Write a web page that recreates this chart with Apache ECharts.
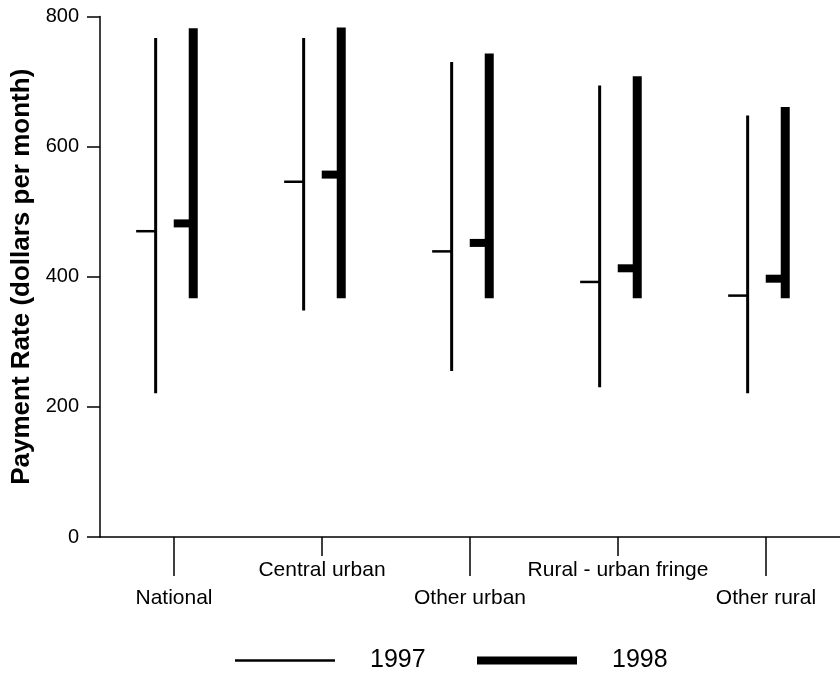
<!DOCTYPE html>
<html>
<head>
<meta charset="utf-8">
<script src="https://cdn.jsdelivr.net/npm/echarts@6/dist/echarts.min.js"></script>
<style>
html,body{margin:0;padding:0;background:#fff;}
#chart{width:840px;height:673px;}
</style>
</head>
<body>
<div id="chart"></div>
<script>
var categories = ['National', 'Central urban', 'Other urban', 'Rural - urban fringe', 'Other rural'];
var low1997  = [221, 348, 255, 230, 221];
var high1997 = [767, 767, 730, 694, 648];
var mean1997 = [470, 546, 439, 392, 371];
var low1998  = [367, 367, 367, 367, 367];
var high1998 = [782, 783, 743, 708, 661];
var mean1998 = [482, 557, 452, 413, 397];
var yTicks = [0, 200, 400, 600, 800];

var FONT = "'Liberation Sans', Arial, Helvetica, sans-serif";

function build(lo, hi, mean) {
  return categories.map(function (c, i) { return [i, lo[i], hi[i], mean[i]]; });
}

function makeRender(offFrac, w, tickLen, tickH) {
  return function (params, api) {
    var cat = api.value(0), lo = api.value(1), hi = api.value(2), m = api.value(3);
    var band = api.size([1, 0])[0];
    var pLo = api.coord([cat, lo]);
    var pHi = api.coord([cat, hi]);
    var pM = api.coord([cat, m]);
    var xc = pLo[0] + offFrac * band;
    return {
      type: 'group',
      children: [
        { type: 'rect', shape: { x: xc - w / 2, y: pHi[1], width: w, height: pLo[1] - pHi[1] }, style: { fill: '#000' } },
        { type: 'rect', shape: { x: xc - w / 2 - tickLen, y: pM[1] - tickH / 2, width: tickLen + 1, height: tickH }, style: { fill: '#000' } }
      ]
    };
  };
}

var chart = echarts.init(document.getElementById('chart'), null, { renderer: 'canvas' });
var axisLineStyle = { color: '#000', width: 1.5 };
chart.setOption({
  backgroundColor: '#fff',
  animation: false,
  grid: { left: 100, top: 16.5, width: 746, bottom: 136, containLabel: false },
  xAxis: [
    {
      type: 'category', data: categories, position: 'bottom', boundaryGap: true,
      axisLine: { show: true, lineStyle: axisLineStyle },
      axisTick: { show: true, alignWithLabel: true, length: 39, lineStyle: { color: '#000', width: 1.5 },
        interval: function (i) { return i % 2 === 0; } },
      axisLabel: { show: true, margin: 51, color: '#000', fontFamily: FONT, fontSize: 21,
        interval: function (i) { return i % 2 === 0; } },
      splitLine: { show: false }
    },
    {
      type: 'category', data: categories, position: 'bottom', offset: 0, boundaryGap: true,
      axisLine: { show: false },
      axisTick: { show: true, alignWithLabel: true, length: 19, lineStyle: { color: '#000', width: 1.5 },
        interval: function (i) { return i % 2 === 1; } },
      axisLabel: { show: true, margin: 23, color: '#000', fontFamily: FONT, fontSize: 21,
        interval: function (i) { return i % 2 === 1; } },
      splitLine: { show: false }
    }
  ],
  yAxis: {
    type: 'value', min: yTicks[0], max: yTicks[yTicks.length - 1], interval: 200,
    name: 'Payment Rate (dollars per month)', nameLocation: 'middle', nameGap: 64,
    nameTextStyle: { color: '#000', fontFamily: FONT, fontSize: 26, fontWeight: 'bold' },
    axisLine: { show: true, lineStyle: axisLineStyle },
    axisTick: { show: true, length: 13, lineStyle: { color: '#000', width: 1.5 } },
    axisLabel: { margin: 21, color: '#000', fontFamily: FONT, fontSize: 20 },
    splitLine: { show: false }
  },
  legend: [
    {
      data: [{ name: '1997', icon: 'rect' }], left: 230, top: 643,
      itemWidth: 100, itemHeight: 2.5, itemGap: 0,
      textStyle: { color: '#000', fontFamily: FONT, fontSize: 25, padding: [0, 0, 0, 30] },
      selectedMode: false
    },
    {
      data: [{ name: '1998', icon: 'rect' }], left: 472, top: 643,
      itemWidth: 100, itemHeight: 8, itemGap: 0,
      textStyle: { color: '#000', fontFamily: FONT, fontSize: 25, padding: [0, 0, 0, 30] },
      selectedMode: false
    }
  ],
  series: [
    {
      name: '1997', type: 'custom', xAxisIndex: 0,
      renderItem: makeRender(-0.124, 3, 18, 2.5),
      itemStyle: { color: '#000' },
      encode: { x: 0, y: [1, 2, 3] },
      data: build(low1997, high1997, mean1997)
    },
    {
      name: '1998', type: 'custom', xAxisIndex: 0,
      renderItem: makeRender(0.13, 9, 15, 8),
      itemStyle: { color: '#000' },
      encode: { x: 0, y: [1, 2, 3] },
      data: build(low1998, high1998, mean1998)
    }
  ]
});
</script>
</body>
</html>
